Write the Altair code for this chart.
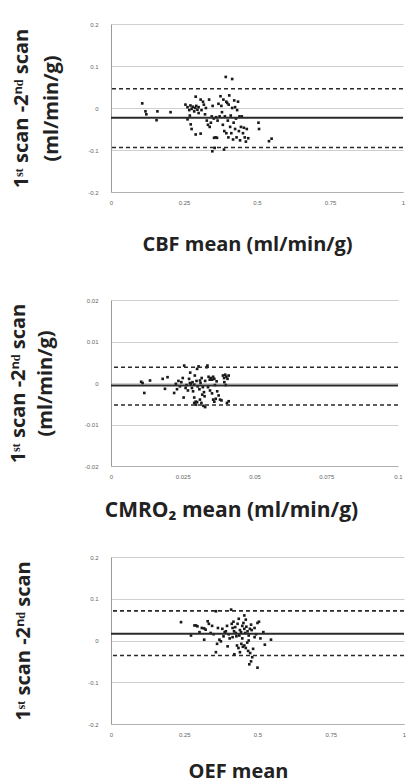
import altair as alt
import pandas as pd

# ---------------- data ----------------
cbf_x = [0.107, 0.118, 0.121, 0.159, 0.156, 0.204,
         0.255, 0.262, 0.268, 0.272, 0.276, 0.280, 0.285, 0.288, 0.292, 0.296, 0.300, 0.262, 0.270, 0.273,
         0.276, 0.290, 0.307, 0.290, 0.307, 0.318, 0.322, 0.328, 0.332, 0.336, 0.338, 0.342, 0.345, 0.348,
         0.352, 0.353, 0.358, 0.363, 0.347, 0.355, 0.360, 0.365, 0.368, 0.372, 0.375, 0.378, 0.380, 0.383,
         0.385, 0.387, 0.388, 0.390, 0.393, 0.395, 0.398, 0.400, 0.402, 0.405, 0.408, 0.410, 0.412, 0.415,
         0.415, 0.418, 0.420, 0.422, 0.425, 0.428, 0.430, 0.432, 0.435, 0.438, 0.440, 0.442, 0.445, 0.448,
         0.452, 0.455, 0.458, 0.462, 0.465, 0.470, 0.505, 0.507, 0.541, 0.550, 0.300, 0.310, 0.315, 0.325,
         0.395, 0.403, 0.425]
cbf_y = [0.011, -0.008, -0.015, -0.008, -0.029, -0.010,
         0.008, 0.002, -0.005, 0.006, -0.002, 0.003, -0.008, 0.000, 0.005, -0.004, 0.002, -0.027, -0.018, -0.039,
         -0.050, 0.027, 0.020, -0.063, -0.061, 0.008, -0.015, -0.030, -0.040, 0.020, -0.045, -0.035, -0.020, 0.005,
         -0.025, -0.071, -0.070, -0.071, -0.103, -0.095, -0.022, -0.030, 0.010, -0.020, 0.028, 0.005, -0.010, -0.040,
         0.020, -0.099, -0.055, -0.020, 0.074, -0.060, 0.012, -0.030, -0.070, 0.030, -0.045, -0.018, -0.060, 0.069,
         0.000, -0.075, -0.035, 0.018, -0.050, -0.025, -0.070, -0.005, 0.015, -0.055, -0.020, -0.077, -0.045, -0.020,
         -0.060, -0.047, -0.070, -0.080, -0.050, -0.072, -0.035, -0.050, -0.079, -0.073, -0.012, -0.005, 0.015, 0.000,
         0.015, 0.008, 0.002]
cbf_lines = [-0.023, 0.046, -0.094]

cmr_x = [0.0105, 0.0110, 0.0116, 0.0136, 0.0180, 0.0188, 0.0197, 0.0220, 0.0226, 0.0235, 0.0240, 0.0245,
         0.0253, 0.0255, 0.0260, 0.0263, 0.0268, 0.0272, 0.0276, 0.0278, 0.0282, 0.0286, 0.0290, 0.0295,
         0.0300, 0.0305, 0.0292, 0.0298, 0.0302, 0.0308, 0.0312, 0.0316, 0.0320, 0.0324, 0.0328, 0.0290,
         0.0296, 0.0300, 0.0310, 0.0315, 0.0322, 0.0328, 0.0333, 0.0336, 0.0340, 0.0344, 0.0348, 0.0352,
         0.0356, 0.0360, 0.0352, 0.0356, 0.0360, 0.0365, 0.0370, 0.0375, 0.0380, 0.0385, 0.0390, 0.0394,
         0.0398, 0.0402, 0.0406, 0.0410, 0.0395, 0.0400, 0.0404, 0.0410, 0.0275, 0.0284, 0.0290, 0.0310,
         0.0318, 0.0326, 0.0338, 0.0345, 0.0362, 0.0368, 0.0250, 0.0230]
cmr_y = [0.0003, 0.0000, -0.0024, 0.0006, 0.0010, -0.0014, 0.0014, -0.0024, -0.0002, 0.0005, -0.0008, 0.0002,
         -0.0035, 0.0042, -0.0012, -0.0005, -0.0018, 0.0010, 0.0025, -0.0002, -0.0012, -0.0020, -0.0035, -0.0045,
         0.0034, 0.0040, 0.0018, 0.0005, -0.0008, -0.0015, 0.0000, 0.0012, -0.0010, -0.0022, 0.0005, -0.0048,
         -0.0052, -0.0046, -0.0040, -0.0048, -0.0055, -0.0058, 0.0038, 0.0042, 0.0015, 0.0008, 0.0012, 0.0008,
         0.0015, 0.0010, -0.0025, -0.0040, -0.0045, -0.0038, -0.0020, -0.0030, -0.0040, -0.0042, 0.0018, 0.0012,
         0.0020, 0.0015, 0.0010, 0.0018, 0.0002, -0.0005, -0.0048, -0.0044, 0.0000, 0.0002, -0.0004, 0.0006,
         -0.0028, -0.0032, -0.0010, -0.0018, -0.0005, 0.0004, 0.0012, -0.0015]
cmr_lines = [-0.0006, 0.0038, -0.0053]

oef_x = [0.239, 0.273, 0.285, 0.290, 0.295, 0.310, 0.318, 0.323, 0.330, 0.334, 0.318, 0.340, 0.350, 0.358,
         0.362, 0.370, 0.375, 0.380, 0.384, 0.388, 0.392, 0.396, 0.358, 0.398, 0.405, 0.410, 0.412, 0.415,
         0.418, 0.420, 0.424, 0.428, 0.432, 0.436, 0.440, 0.444, 0.448, 0.452, 0.455, 0.458, 0.462, 0.466,
         0.470, 0.474, 0.478, 0.421, 0.430, 0.435, 0.440, 0.445, 0.450, 0.455, 0.460, 0.465, 0.470, 0.472,
         0.478, 0.482, 0.500, 0.490, 0.495, 0.500, 0.505, 0.510, 0.520, 0.525, 0.546, 0.460, 0.448, 0.438,
         0.426, 0.415, 0.468, 0.475, 0.485, 0.480, 0.490, 0.402, 0.455, 0.365, 0.302, 0.345]
oef_y = [0.044, 0.012, 0.036, 0.036, 0.034, 0.030, 0.029, 0.026, 0.046, 0.040, 0.002, 0.018, 0.015, 0.070,
         -0.008, 0.002, -0.002, 0.028, 0.010, 0.020, 0.022, 0.035, -0.028, -0.014, 0.005, 0.074, 0.040, 0.030,
         0.045, 0.022, 0.032, 0.010, 0.040, 0.052, 0.025, 0.020, 0.035, 0.042, 0.028, 0.018, 0.033, 0.022,
         0.012, 0.028, 0.038, -0.033, -0.012, -0.018, -0.028, -0.008, -0.015, -0.012, -0.018, -0.005, 0.000, -0.057,
         -0.050, -0.040, -0.065, 0.008, 0.015, 0.042, 0.045, 0.005, 0.020, -0.010, 0.002, 0.050, 0.005, 0.012,
         0.018, 0.008, -0.025, -0.030, -0.020, 0.025, 0.030, 0.015, 0.060, 0.030, 0.020, 0.035]
oef_lines = [0.016, 0.071, -0.036]

ytitle2 = ["1ˢᵗ scan -2ⁿᵈ scan", "(ml/min/g)"]
ytitle1 = "1ˢᵗ scan -2ⁿᵈ scan"

FONT = "Open Sans"
W, H = 292, 168


def panel(xs, ys, lines, xdom, xticks, ydom, yticks, xtitle, ytitle,
          titleX_y, titleX_x, titleY_x, xfs, w=W, h=H, lh=30):
    df = pd.DataFrame({"x": xs, "y": ys})
    xaxis = alt.Axis(values=xticks, labelExpr="'' + datum.value", grid=False, ticks=False,
                     domainColor="#b0b0b0", labelFontSize=6, labelColor="#666", labelPadding=7,
                     labelFlush=False, labelOverlap=False, title=xtitle, titleFont=FONT,
                     titleFontSize=xfs, titleFontWeight="bold", titleColor="#222",
                     titleX=titleX_x, titleY=titleY_x, titleBaseline="middle", titleAlign="center")
    yaxis = alt.Axis(values=yticks, labelExpr="'' + datum.value", grid=True, ticks=False,
                     gridColor="#cfcfcf", gridWidth=1, domainColor="#9a9a9a",
                     labelFontSize=6, labelColor="#666", labelPadding=13, labelOverlap=False,
                     labelFlush=False, title=ytitle, titleFont=FONT, titleFontSize=20,
                     titleFontWeight="bold", titleColor="#222", titleAngle=270,
                     titleX=titleX_y, titleY=h / 2, titleBaseline="middle", titleAlign="center",
                     titleLineHeight=lh)
    xs_ = alt.Scale(domain=xdom, nice=False, zero=False)
    ys_ = alt.Scale(domain=ydom, nice=False, zero=False)
    pts = alt.Chart(df).mark_square(size=7, color="#1a1a1a", opacity=1).encode(
        x=alt.X("x:Q", scale=xs_, axis=xaxis),
        y=alt.Y("y:Q", scale=ys_, axis=yaxis),
    )
    mean = alt.Chart(pd.DataFrame({"y": [lines[0]]})).mark_rule(
        color="#2a2a2a", strokeWidth=2).encode(y=alt.Y("y:Q", scale=ys_, axis=yaxis))
    loa = alt.Chart(pd.DataFrame({"y": lines[1:]})).mark_rule(
        color="#2a2a2a", strokeWidth=1.6, strokeDash=[4, 3]).encode(
        y=alt.Y("y:Q", scale=ys_, axis=yaxis))
    return alt.layer(pts, mean, loa).properties(width=w, height=h)


p1 = panel(cbf_x, cbf_y, cbf_lines, [0, 1], [0, 0.25, 0.5, 0.75, 1], [-0.2, 0.2],
           [-0.2, -0.1, 0, 0.1, 0.2], "CBF mean (ml/min/g)", ytitle2, -90, 136, 52, 20)
p2 = panel(cmr_x, cmr_y, cmr_lines, [0, 0.1], [0, 0.025, 0.05, 0.075, 0.1], [-0.02, 0.02],
           [-0.02, -0.01, 0, 0.01, 0.02], "CMRO₂ mean (ml/min/g)", ytitle2, -93, 120, 44, 21,
           w=287, h=166, lh=27)
p3 = panel(oef_x, oef_y, oef_lines, [0, 1], [0, 0.25, 0.5, 0.75, 1], [-0.2, 0.2],
           [-0.2, -0.1, 0, 0.1, 0.2], "OEF mean", ytitle1, -88, 127, 47, 20, w=293, h=167)

chart = alt.vconcat(alt.vconcat(p1, p2, spacing=43), p3, spacing=34).properties(
    padding={"left": 8, "top": 21, "right": 0, "bottom": 0},
    background="white",
).configure_view(stroke=None)

chart.save("out.html", embed_options={"renderer": "svg", "actions": False})
